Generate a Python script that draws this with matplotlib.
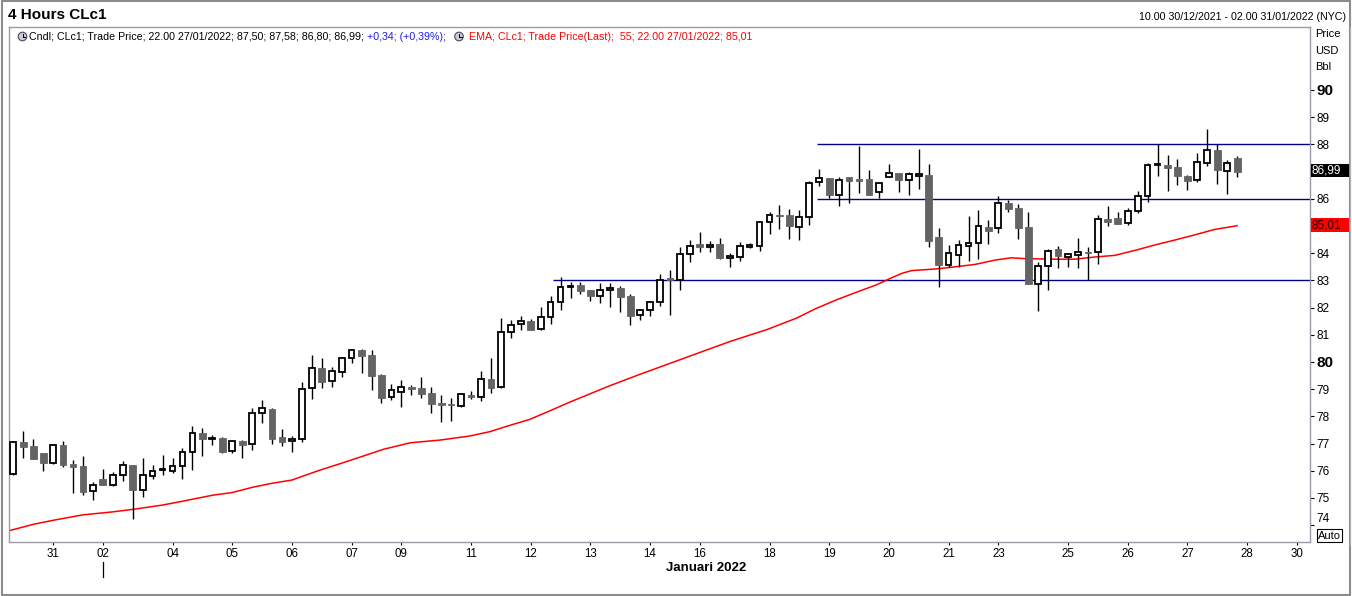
import numpy as np
import matplotlib
matplotlib.use('Agg')
import matplotlib.pyplot as plt
from matplotlib.patches import Rectangle, Circle

plt.rcParams['font.family'] = ['Liberation Sans', 'DejaVu Sans']

# 4h candles CLc1, 30/12/2021 - 27/01/2022
opens = [75.87, 77.06, 76.91, 76.66, 76.30, 76.94, 76.25, 76.18, 75.25, 75.70,
         75.49, 75.83, 76.20, 75.31, 75.82, 76.02, 76.01, 76.17, 76.68, 77.38,
         77.18, 77.19, 76.72, 77.10, 76.97, 78.11, 78.27, 77.23, 77.08, 77.16,
         79.03, 79.78, 79.29, 79.62, 80.13, 80.44, 80.26, 79.52, 78.70, 78.88,
         79.08, 79.04, 78.86, 78.48, 78.45, 78.39, 78.79, 78.73, 79.37, 79.09,
         81.09, 81.38, 81.51, 81.20, 81.64, 82.19, 82.75, 82.83, 82.65, 82.41,
         82.63, 82.72, 82.43, 81.72, 81.90, 82.19, 83.09, 83.03, 83.96, 84.33,
         84.24, 84.34, 83.81, 83.85, 84.24, 84.28, 85.14, 85.39, 85.40, 84.98,
         85.32, 86.61, 86.75, 86.13, 86.80, 86.73, 86.73, 86.25, 86.79, 86.94,
         86.68, 86.84, 86.88, 84.60, 83.58, 83.95, 84.28, 84.37, 84.97, 84.92,
         85.85, 85.66, 84.97, 82.86, 83.53, 84.16, 83.85, 83.95, 84.03, 84.03,
         85.26, 85.30, 85.10, 85.54, 86.09, 87.23, 87.25, 87.17, 86.84, 86.68,
         87.32, 87.78, 87.04, 87.50]
highs = [77.10, 77.48, 77.17, 76.66, 76.97, 77.10, 76.39, 76.55, 75.59, 76.07,
         75.96, 76.36, 76.23, 76.47, 76.20, 76.57, 76.47, 76.83, 77.64, 77.56,
         77.32, 77.23, 77.11, 77.12, 78.31, 78.59, 78.30, 77.53, 77.29, 79.27,
         80.26, 80.15, 79.80, 80.17, 80.47, 80.47, 80.44, 79.56, 79.18, 79.34,
         79.17, 79.45, 79.08, 78.79, 78.69, 78.81, 78.93, 79.67, 80.15, 81.62,
         81.54, 81.68, 81.58, 82.02, 82.41, 83.12, 82.94, 82.94, 82.65, 82.89,
         82.92, 82.79, 82.50, 81.96, 82.23, 83.24, 83.38, 84.23, 84.47, 84.78,
         84.45, 84.56, 84.02, 84.41, 84.38, 85.14, 85.52, 85.76, 85.63, 85.58,
         86.65, 87.08, 86.75, 86.80, 86.80, 87.94, 87.06, 86.57, 87.28, 86.94,
         86.97, 87.83, 87.28, 84.93, 84.30, 84.49, 85.36, 85.59, 85.22, 86.11,
         85.96, 85.80, 85.52, 83.66, 84.16, 84.26, 84.00, 84.56, 84.23, 85.41,
         85.74, 85.51, 85.65, 86.29, 87.33, 88.01, 87.61, 87.47, 86.88, 87.69,
         88.57, 88.01, 87.43, 87.58]
lows = [75.85, 76.48, 76.42, 76.01, 76.26, 76.15, 75.20, 75.12, 74.93, 75.47,
        75.45, 75.64, 74.23, 75.04, 75.71, 75.86, 75.93, 75.68, 76.04, 76.56,
        76.93, 76.67, 76.64, 76.48, 76.75, 77.77, 77.00, 76.91, 76.70, 77.07,
        78.64, 79.06, 79.09, 79.46, 79.98, 79.61, 78.97, 78.50, 78.59, 78.36,
        78.79, 78.69, 78.14, 77.79, 77.84, 78.36, 78.65, 78.58, 78.87, 79.06,
        80.89, 81.18, 81.18, 81.18, 81.41, 81.91, 82.35, 82.50, 82.25, 82.16,
        82.03, 81.85, 81.37, 81.56, 81.70, 82.07, 81.74, 82.65, 83.68, 84.06,
        84.06, 83.80, 83.51, 83.73, 84.18, 84.09, 84.72, 84.90, 84.53, 84.50,
        85.05, 86.48, 86.03, 85.75, 85.83, 86.20, 86.15, 86.03, 86.79, 86.26,
        86.15, 86.37, 84.24, 82.77, 83.51, 83.51, 83.73, 83.80, 84.35, 84.76,
        85.53, 84.54, 82.85, 81.89, 82.63, 83.45, 83.51, 83.47, 83.01, 83.62,
        85.00, 85.09, 85.02, 85.46, 85.90, 86.82, 86.30, 86.52, 86.31, 86.62,
        87.22, 86.53, 86.19, 86.80]
closes = [77.05, 76.89, 76.45, 76.30, 76.94, 76.23, 76.15, 75.23, 75.47, 75.49,
          75.83, 76.20, 75.31, 75.83, 75.98, 76.07, 76.17, 76.68, 77.38, 77.18,
          77.20, 76.70, 77.08, 76.96, 78.11, 78.30, 77.18, 77.07, 77.17, 79.00,
          79.77, 79.28, 79.66, 80.13, 80.44, 80.23, 79.50, 78.69, 78.96, 79.07,
          79.02, 78.84, 78.47, 78.43, 78.43, 78.81, 78.73, 79.37, 79.06, 81.10,
          81.35, 81.50, 81.18, 81.64, 82.19, 82.75, 82.79, 82.62, 82.44, 82.63,
          82.71, 82.40, 81.70, 81.90, 82.19, 83.03, 83.00, 83.96, 84.28, 84.24,
          84.29, 83.84, 83.90, 84.25, 84.29, 85.14, 85.39, 85.37, 85.01, 85.32,
          86.57, 86.75, 86.15, 86.70, 86.67, 86.67, 86.15, 86.57, 86.94, 86.70,
          86.91, 86.91, 84.46, 83.58, 84.00, 84.29, 84.37, 84.99, 84.83, 85.84,
          85.64, 84.94, 82.85, 83.53, 84.07, 83.88, 83.96, 84.03, 84.02, 85.25,
          85.16, 85.09, 85.55, 86.09, 87.23, 87.28, 87.15, 86.82, 86.67, 87.34,
          87.78, 87.07, 87.31, 86.99]

# EMA(55) read at a number of points along the red line
ema_idx = [-0.4, 2, 4, 7, 10, 12, 15, 17, 20, 22, 24, 26, 28, 29, 30.7, 33, 35, 37.2,
           39.9, 42.9, 45.9, 47.9, 49.9, 51.9, 53.9, 55.9, 57.9, 59.9, 63, 66, 69, 72,
           75.8, 78.7, 80.7, 82.7, 84.7, 86.7, 88, 89.3, 90.3, 92.7, 94.7, 96.7, 98.7,
           100.3, 101.7, 104.7, 106.7, 108.7, 110.7, 112.7, 114.7, 116.7, 118.7, 120.7, 123]
ema_val = [73.80, 74.03, 74.18, 74.38, 74.49, 74.58, 74.74, 74.88, 75.10, 75.20, 75.39,
           75.54, 75.66, 75.79, 76.01, 76.28, 76.52, 76.79, 77.03, 77.13, 77.28, 77.44,
           77.67, 77.89, 78.20, 78.52, 78.82, 79.12, 79.55, 79.95, 80.35, 80.75, 81.20,
           81.61, 81.97, 82.28, 82.56, 82.83, 83.05, 83.26, 83.36, 83.42, 83.50, 83.59,
           83.75, 83.83, 83.80, 83.78, 83.78, 83.86, 83.92, 84.10, 84.30, 84.48, 84.67,
           84.87, 85.01]

tick_idx = [4, 9, 16, 22, 28, 34, 39, 46, 52, 58, 64, 69, 76, 82, 88, 94, 99, 106,
            112, 118, 124, 129]
tick_lbl = ['31', '02', '04', '05', '06', '07', '09', '11', '12', '13', '14', '16',
            '18', '19', '20', '21', '23', '25', '26', '27', '28', '30']

price_ticks = list(range(74, 91))
# 87 and 85 sit under the last-price / EMA boxes, 74 is drawn above the Auto box
hidden_ticks = [74, 85, 87]

levels = [88, 86, 83]
level_start = [80.8, 80.8, 54.2]

W, H = 1352, 596
fig = plt.figure(figsize=(W / 100, H / 100), dpi=100)
fig.patch.set_facecolor('white')

# plot frame in pixels: x 9..1310, y 27..542
ax = fig.add_axes([9 / W, 1 - 542 / H, (1310 - 9) / W, (542 - 27) / H])
ax.set_xlim(-0.432, 130.32)
ax.set_ylim(73.382, 92.316)
for s in ax.spines.values():
    s.set_color('#9a9aa4')
    s.set_linewidth(1.0)

x = np.arange(len(opens))
o = np.array(opens)
c = np.array(closes)
up = c >= o
ax.vlines(x, lows, highs, color='black', lw=1.0, zorder=2)
body_lo = np.minimum(o, c)
body_h = np.maximum(np.abs(c - o), 0.025)
ax.bar(x[up], body_h[up], bottom=body_lo[up], width=0.58, facecolor='white',
       edgecolor='black', linewidth=1.3, zorder=3)
ax.bar(x[~up], body_h[~up], bottom=body_lo[~up], width=0.68, facecolor='#646464',
       edgecolor='#646464', linewidth=0.6, zorder=3)

for lv, st in zip(levels, level_start):
    ax.hlines(lv, st, 130.32, color='#00008c', lw=1.0, zorder=1)

ax.plot(ema_idx, ema_val, color='#ff0000', lw=1.1, zorder=1)

ax.set_xticks(tick_idx)
ax.set_xticklabels(tick_lbl)
ax.tick_params(axis='x', direction='out', length=2.5, width=0.8, pad=2,
               labelsize=8.3, color='black')

ax.yaxis.tick_right()
ax.set_yticks(price_ticks)
ax.set_yticklabels(['' if v in hidden_ticks else str(v) for v in price_ticks])
ax.tick_params(axis='y', direction='out', length=3, width=0.8, pad=1.5,
               labelsize=8.5, color='black')
for lbl in ax.get_yticklabels():
    if lbl.get_text() in ('80', '90'):
        lbl.set_fontweight('bold')
        lbl.set_fontsize(11)

# overlay in pixel coordinates for the annotations around the chart
ov = fig.add_axes([0, 0, 1, 1], facecolor='none')
ov.set_xlim(0, W)
ov.set_ylim(H, 0)
ov.axis('off')
ov.set_zorder(5)

ov.add_patch(Rectangle((1.5, 0.5), 1348, 594, fill=False, ec='#8c8c8c', lw=1.5))
ov.plot([1349.5, 1349.5], [27, 545], color='#b0b0b8', lw=0.8)

ov.text(8, 15, '4 Hours CLc1', fontsize=11, fontweight='bold', va='center', ha='left')
ov.text(1346, 17, '10.00 30/12/2021 - 02.00 31/01/2022 (NYC)', fontsize=7.7,
        va='center', ha='right')


def clock_icon(cx, cy):
    ov.add_patch(Circle((cx, cy), 4.3, fc='#c9cbd6', ec='#4c4c5c', lw=0.8))
    ov.plot([cx, cx], [cy, cy - 3], color='black', lw=0.7)
    ov.plot([cx, cx + 2.5], [cy, cy], color='black', lw=0.7)


ly = 36.5
clock_icon(22.5, ly)
ov.text(29, ly, 'Cndl; CLc1; Trade Price; 22.00 27/01/2022; 87,50; 87,58; 86,80; 86,99;',
        fontsize=7.7, va='center', ha='left', color='black')
ov.text(367, ly, '+0,34; (+0,39%);', fontsize=7.7, va='center', ha='left', color='#1a1aff')
clock_icon(459, ly)
ov.text(469, ly, 'EMA; CLc1; Trade Price(Last);  55; 22.00 27/01/2022; 85,01',
        fontsize=7.7, va='center', ha='left', color='#ff0000')

ov.text(1315, 34, 'Price', fontsize=8, va='center', ha='left')
ov.text(1315, 50.5, 'USD', fontsize=8, va='center', ha='left')
ov.text(1315, 66.5, 'Bbl', fontsize=8, va='center', ha='left')

ov.add_patch(Rectangle((1311, 164), 38, 13, fc='black', ec='none'))
ov.text(1312, 170.8, '86,99', fontsize=8.5, color='white', va='center', ha='left')
ov.add_patch(Rectangle((1311, 218), 38, 14, fc='#ff0000', ec='none'))
ov.text(1312, 225, '85,01', fontsize=8.5, color='#300000', va='center', ha='left')

ov.text(1316, 519, '74', fontsize=8.5, va='center', ha='left')
ov.add_patch(Rectangle((1317, 529), 25, 13, fc='white', ec='black', lw=0.8))
ov.text(1329.5, 535.8, 'Auto', fontsize=8, va='center', ha='center')

ov.plot([103.2, 103.2], [562, 577], color='black', lw=0.9)
ov.text(706.5, 568, 'Januari 2022', fontsize=9.5, fontweight='bold', va='center',
        ha='center')

fig.savefig('out.png', dpi=100)
plt.close(fig)
